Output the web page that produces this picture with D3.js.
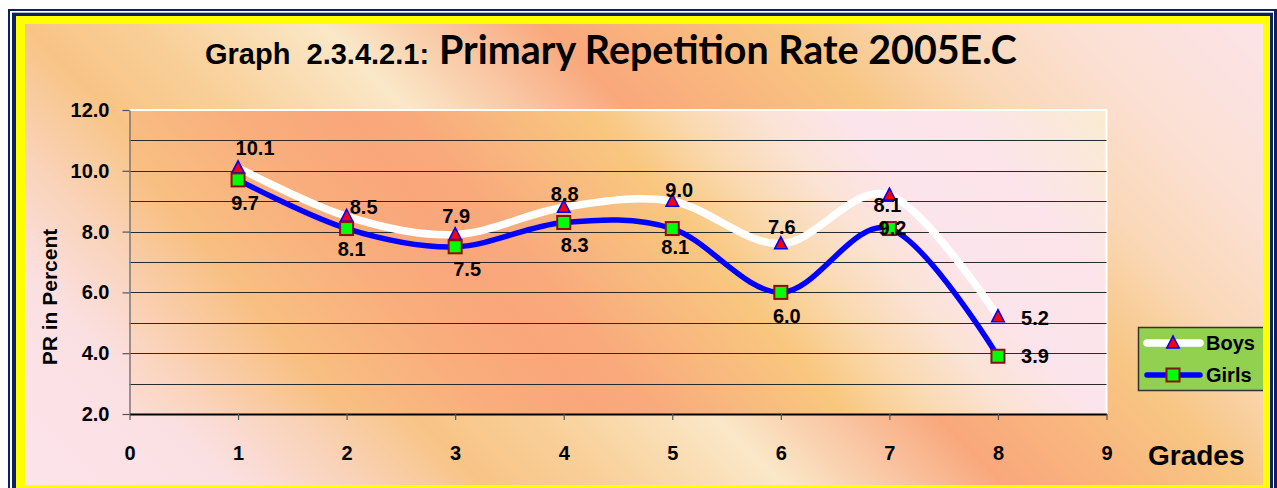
<!DOCTYPE html>
<html>
<head>
<meta charset="utf-8">
<script src="https://cdn.jsdelivr.net/npm/d3@7"></script>
<style>
  html, body { margin: 0; padding: 0; background: #ffffff; }
  svg { display: block; }
  text { font-weight: bold; fill: #000; }
</style>
</head>
<body>
<svg id="chart" width="1277" height="488"></svg>
<script>
// ---------------- data ----------------
const grades = [1, 2, 3, 4, 5, 6, 7, 8];
const boys  = [10.1, 8.5, 7.9, 8.8, 9.0, 7.6, 9.2, 5.2];
const girls = [9.7, 8.1, 7.5, 8.3, 8.1, 6.0, 8.1, 3.9];
const yTickValues = [2, 4, 6, 8, 10, 12];
const xTickValues = [0, 1, 2, 3, 4, 5, 6, 7, 8, 9];
const seriesNames = ["Boys", "Girls"];
const titleSmall = "Graph  2.3.4.2.1:";
const titleBig = "Primary Repetition Rate 2005E.C";
const yTitle = "PR in Percent";
const xTitle = "Grades";

// label placement (pixel offsets from each point, as placed in the original)
const boysLabelOffset  = [[17,-20],[17,-10],[1,-19],[1,-13],[7,-11],[1,-17],[3,33],[37,1]];
const girlsLabelOffset = [[7,23],[5,20],[12,22],[11,22],[3,18],[6,23],[-2,-24],[37,0]];

const ARIAL = '"Liberation Sans", Arial, sans-serif';
const CALIBRI = 'Lato, "Open Sans", sans-serif';

// ---------------- layout ----------------
const svg = d3.select("#chart");
const plot = {left: 129.5, right: 1106.5, top: 110, bottom: 414};

const defs = svg.append("defs");
const g1 = defs.append("linearGradient").attr("id","bgOuter")
  .attr("gradientUnits","userSpaceOnUse")
  .attr("x1",0).attr("y1",488).attr("x2",882.5).attr("y2",-394.5);
[[0,"#FCE4EC"],[0.135,"#FBE0E2"],[0.208,"#F9D2B6"],[0.276,"#F8C486"],[0.344,"#F9CF98"],
 [0.446,"#FAE8C8"],[0.514,"#F9C5A2"],[0.571,"#F9A87C"],[0.639,"#F9B67E"],[0.707,"#F8C683"],
 [0.786,"#FAD8B8"],[0.871,"#FBE0D4"],[1,"#FCE4EC"]].forEach(s =>
  g1.append("stop").attr("offset",s[0]).attr("stop-color",s[1]));

const g2 = defs.append("linearGradient").attr("id","bgPlot")
  .attr("gradientUnits","userSpaceOnUse")
  .attr("x1",130).attr("y1",414).attr("x2",856).attr("y2",-191);
[[0,"#FBDDD6"],[0.073,"#FAD2B8"],[0.175,"#F8BF82"],[0.297,"#F9AD7C"],[0.378,"#F9A67B"],
 [0.432,"#F9AA7C"],[0.493,"#F8B77E"],[0.581,"#F9C77F"],[0.649,"#FAD9AE"],[0.717,"#FBE3D5"],
 [0.785,"#FCE4EC"],[0.879,"#FCE4EA"],[1,"#FAEBD0"]].forEach(s =>
  g2.append("stop").attr("offset",s[0]).attr("stop-color",s[1]));

// frame: navy double line + yellow border
const navy = "#0B2160";
svg.append("rect").attr("x",8).attr("y",9).attr("width",1269).attr("height",479).attr("fill",navy);
svg.append("rect").attr("x",10).attr("y",11).attr("width",1264).attr("height",477).attr("fill","#fff");
svg.append("rect").attr("x",12).attr("y",12.7).attr("width",1261).attr("height",476).attr("fill",navy);
svg.append("rect").attr("x",16).attr("y",16).attr("width",1254).attr("height",472).attr("fill","#FFFF00");
svg.append("rect").attr("x",25).attr("y",24).attr("width",1238).attr("height",461).attr("fill","url(#bgOuter)");

// plot area
svg.append("rect").attr("x",plot.left).attr("y",plot.top)
  .attr("width",plot.right-plot.left).attr("height",plot.bottom-plot.top)
  .attr("fill","url(#bgPlot)");
svg.append("path")
  .attr("d",`M${plot.left},${plot.top}H${plot.right}V${plot.bottom}`)
  .attr("fill","none").attr("stroke","#fff").attr("stroke-width",2);

// scales
const x = d3.scaleLinear().domain([0, 9]).range([plot.left, plot.right]);
const y = d3.scaleLinear().domain([2, 12]).range([plot.bottom, plot.top]);

// gridlines (every 1.0)
const gridVals = d3.range(3, 12, 1);
svg.append("g").selectAll("line").data(gridVals).join("line")
  .attr("x1", plot.left).attr("x2", plot.right)
  .attr("y1", d => Math.round(y(d)) + 0.5).attr("y2", d => Math.round(y(d)) + 0.5)
  .attr("stroke", "#2a2a2a").attr("stroke-width", 1);

// y axis
const yAxis = svg.append("g").attr("transform",`translate(${plot.left},0)`)
  .call(d3.axisLeft(y).tickValues(yTickValues).tickFormat(d3.format(".1f"))
        .tickSize(7).tickSizeOuter(0).tickPadding(13));
yAxis.select(".domain").attr("stroke","#777").attr("stroke-width",1.5);
yAxis.selectAll(".tick line").attr("stroke","#555").attr("stroke-width",1.2);
yAxis.selectAll(".tick text").style("font-size","20px").style("font-family",ARIAL)
  .style("font-weight","bold").attr("fill","#000");

// x axis
const xAxis = svg.append("g").attr("transform",`translate(0,${plot.bottom})`)
  .call(d3.axisBottom(x).tickValues(xTickValues).tickFormat(d3.format("d"))
        .tickSize(6).tickSizeOuter(0).tickPadding(26));
xAxis.select(".domain").attr("stroke","#000").attr("stroke-width",2);
xAxis.selectAll(".tick line").attr("stroke","#555").attr("stroke-width",1.2);
xAxis.selectAll(".tick text").style("font-size","20px").style("font-family",ARIAL)
  .style("font-weight","bold").attr("fill","#000");

// axis titles
svg.append("text").attr("transform","translate(57,297) rotate(-90)")
  .attr("text-anchor","middle").style("font-family",ARIAL).style("font-size","21px").text(yTitle);
svg.append("text").attr("x",1148).attr("y",465).style("font-family",ARIAL).style("font-size","28px").text(xTitle);

// title
svg.append("text").attr("x",205).attr("y",64).style("font-family",ARIAL).style("font-size","29px")
  .style("white-space","pre").text(titleSmall);
const tBig = svg.append("text").attr("x",439).attr("y",64)
  .style("font-family",CALIBRI).style("font-weight","bold")
  .style("font-size","40px").text(titleBig);
const wBig = tBig.node().getComputedTextLength();
tBig.style("font-size", (40 * 578 / wBig) + "px");

// lines
const line = d3.line().x((d,i) => x(grades[i])).y(d => y(d)).curve(d3.curveCardinal.tension(0));
svg.append("path").datum(boys).attr("d", line)
  .attr("fill","none").attr("stroke","#fff").attr("stroke-width",7.5).attr("stroke-linejoin","round");
svg.append("path").datum(girls).attr("d", line)
  .attr("fill","none").attr("stroke","#0000FF").attr("stroke-width",5.5).attr("stroke-linejoin","round");

// markers
const triPath = "M0,-7L6.2,5L-6.2,5Z";
svg.append("g").selectAll("path").data(boys).join("path")
  .attr("transform",(d,i) => `translate(${x(grades[i])},${y(d)})`)
  .attr("d", triPath).attr("fill","#FF0000").attr("stroke","#0000FF").attr("stroke-width",1.6);
svg.append("g").selectAll("rect").data(girls).join("rect")
  .attr("x",(d,i) => x(grades[i]) - 6.5).attr("y", d => y(d) - 6.5)
  .attr("width",13).attr("height",13)
  .attr("fill","#00FF00").attr("stroke","#8B1010").attr("stroke-width",2);

// data labels
svg.append("g").selectAll("text").data(boys).join("text")
  .attr("x",(d,i) => x(grades[i]) + boysLabelOffset[i][0])
  .attr("y",(d,i) => y(d) + boysLabelOffset[i][1])
  .attr("dy","0.36em").attr("text-anchor","middle")
  .style("font-family",ARIAL).style("font-size","20px")
  .text(d => d3.format(".1f")(d));
svg.append("g").selectAll("text").data(girls).join("text")
  .attr("x",(d,i) => x(grades[i]) + girlsLabelOffset[i][0])
  .attr("y",(d,i) => y(d) + girlsLabelOffset[i][1])
  .attr("dy","0.36em").attr("text-anchor","middle")
  .style("font-family",ARIAL).style("font-size","20px")
  .text(d => d3.format(".1f")(d));

// legend
const lg = svg.append("g");
lg.append("rect").attr("x",1138).attr("y",327).attr("width",125).attr("height",64).attr("fill","#92D050");
lg.append("path").attr("d","M1263,327.5H1138.5V390.5H1263")
  .attr("fill","none").attr("stroke","#333").attr("stroke-width",1.5);
const legendRows = [
  {name: seriesNames[0], cy: 343, stroke: "#fff", sw: 7.5, marker: "tri"},
  {name: seriesNames[1], cy: 375, stroke: "#0000FF", sw: 5.5, marker: "sq"}
];
legendRows.forEach(r => {
  lg.append("line").attr("x1",1147).attr("x2",1200).attr("y1",r.cy).attr("y2",r.cy)
    .attr("stroke",r.stroke).attr("stroke-width",r.sw).attr("stroke-linecap","round");
  if (r.marker === "tri") {
    lg.append("path").attr("transform",`translate(1173,${r.cy})`).attr("d",triPath)
      .attr("fill","#FF0000").attr("stroke","#0000FF").attr("stroke-width",1.6);
  } else {
    lg.append("rect").attr("x",1173-6.5).attr("y",r.cy-6.5).attr("width",13).attr("height",13)
      .attr("fill","#00FF00").attr("stroke","#8B1010").attr("stroke-width",2);
  }
  lg.append("text").attr("x",1206).attr("y",r.cy).attr("dy","0.36em")
    .style("font-family",ARIAL).style("font-size","20px").text(r.name);
});
</script>
</body>
</html>
